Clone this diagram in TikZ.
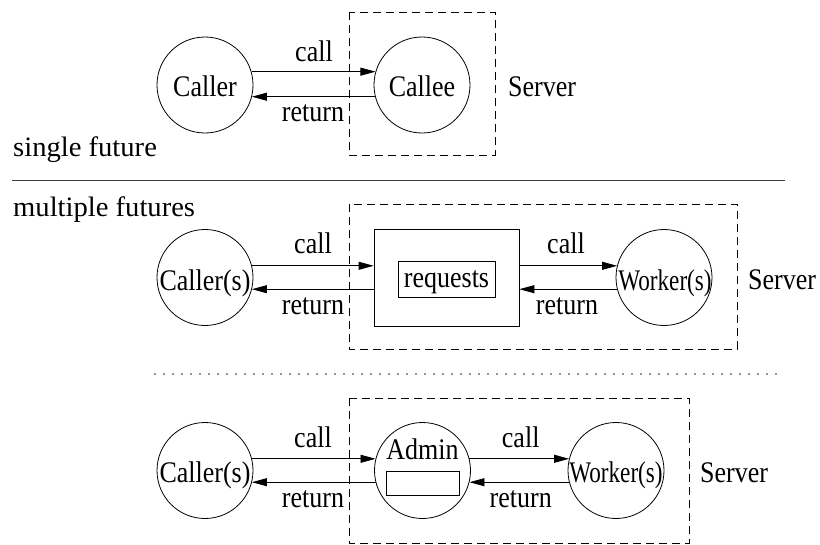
\documentclass[tikz,border=0pt]{standalone}
\usepackage{fontspec}
\setmainfont{Liberation Serif}
\usetikzlibrary{arrows.meta}
\newcommand\vstr[1]{\scalebox{1}[1.15]{#1}}
\newcommand\wstr[1]{\scalebox{0.89}[1.15]{#1}}
\newcommand\hstr[1]{\scalebox{1.1}[1.08]{#1}}
\begin{document}
\begin{tikzpicture}[x=1pt,y=-1pt,
  every node/.style={font=\fontsize{26}{30}\selectfont, inner sep=0pt},
  proc/.style={circle,draw,line width=0.8pt,minimum size=96pt,inner sep=0pt},
  txt/.style={anchor=base},
  conn/.style={line width=0.8pt,-{Triangle[length=15pt,width=8pt]}},
  serverbox/.style={draw,dash pattern=on 8pt off 5pt,line width=0.8pt},
  box/.style={draw,line width=0.8pt,inner sep=0pt},
  sep/.style={line width=0.9pt,black!75},
  dotsep/.style={line width=1.8pt,line cap=round,dash pattern=on 0pt off 9pt,black!85}]
\useasboundingbox (0,0) rectangle (820,544);
% ---------- single future ----------
\draw[serverbox] (349,12) rectangle (495,155);
\node[proc] (caller) at (205,85) {};
\node[proc] (callee) at (422,85) {};
\node[txt] (callerT) at (205,96) {\vstr{Caller}};
\node[txt] (calleeT) at (422,96) {\vstr{Callee}};
\draw[conn] (caller.16) -- (callee.164);
\draw[conn] (callee.194) -- (caller.-14);
\node[txt] (call1) at (314,61) {\vstr{call}};
\node[txt] (ret1) at (313,121.5) {\vstr{return}};
\node[txt,anchor=base west] (srv1) at (508,96) {\vstr{Server}};
\node[txt,anchor=base west] (single) at (13,156.5) {\hstr{single future}};
\draw[sep] (12,180.7) -- (785,180.7);
% ---------- multiple futures ----------
\node[txt,anchor=base west] (multi) at (13,216.5) {\hstr{multiple futures}};
\draw[serverbox] (349,204) rectangle (737,349);
\node[proc] (callers2) at (205,277.5) {};
\node[box,minimum width=145pt,minimum height=97pt] (queue) at (446.5,277.5) {};
\node[box,minimum width=97pt,minimum height=36pt] (req) at (446.5,279) {};
\node[txt] (reqT) at (446.5,287) {\vstr{requests}};
\node[proc] (workers2) at (664,277.5) {};
\node[txt] (c2T) at (205,290) {\vstr{Caller(s)}};
\node[txt] (w2T) at (665,290) {\wstr{Worker(s)}};
\draw[conn] (callers2.14) -- (callers2.14 -| queue.west);
\draw[conn] (queue.west |- callers2.-14) -- (callers2.-14);
\draw[conn] (queue.east |- workers2.166) -- (workers2.166);
\draw[conn] (workers2.194) -- (workers2.194 -| queue.east);
\node[txt] (call2) at (313,253) {\vstr{call}};
\node[txt] (ret2) at (313,314) {\vstr{return}};
\node[txt] (call3) at (566,253) {\vstr{call}};
\node[txt] (ret3) at (567,314) {\vstr{return}};
\node[txt,anchor=base west] (srv2) at (748,289) {\vstr{Server}};
\draw[dotsep] (155,374) -- (783,374);
% ---------- admin ----------
\draw[serverbox] (349,398) rectangle (689,543);
\node[proc] (callers3) at (205,470.5) {};
\node[proc] (admin) at (422.5,470.5) {};
\node[proc] (workers3) at (616,470.5) {};
\node[box,minimum width=73pt,minimum height=24pt] (adminq) at (422.5,483) {};
\node[txt] (c3T) at (205,482.7) {\vstr{Caller(s)}};
\node[txt] (aT) at (422.5,459) {\vstr{Admin}};
\node[txt] (w3T) at (616,482) {\wstr{Worker(s)}};
\draw[conn] (callers3.14) -- (admin.166);
\draw[conn] (admin.194) -- (callers3.-14);
\draw[conn] (admin.14) -- (workers3.166);
\draw[conn] (workers3.194) -- (admin.-14);
\node[txt] (call4) at (313,447) {\vstr{call}};
\node[txt] (ret4) at (313,507) {\vstr{return}};
\node[txt] (call5) at (520.7,447) {\vstr{call}};
\node[txt] (ret5) at (520.7,507) {\vstr{return}};
\node[txt,anchor=base west] (srv3) at (700,482.7) {\vstr{Server}};
\end{tikzpicture}
\end{document}
